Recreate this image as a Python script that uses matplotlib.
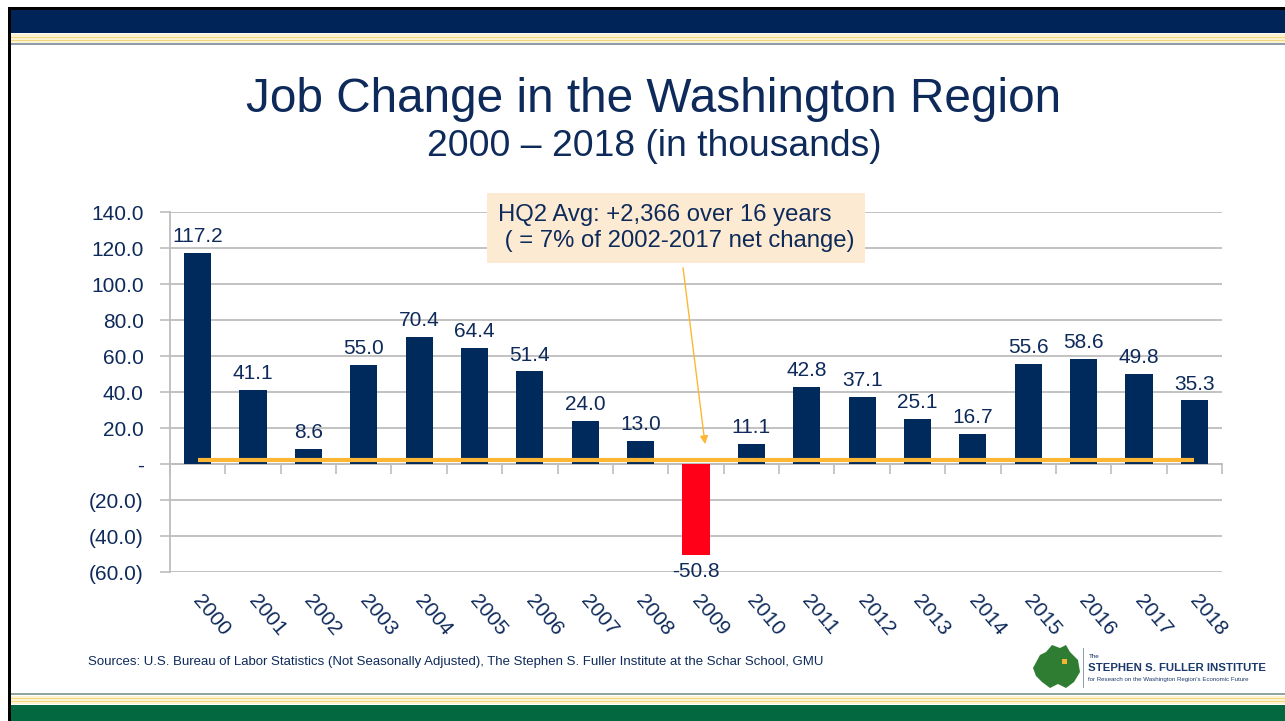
"""
Job change in the Washington region, 2000-2018 (thousands), slide-style bar chart.
"""
import matplotlib
matplotlib.use("Agg")
import matplotlib.pyplot as plt
from matplotlib.patches import Rectangle, Polygon
from matplotlib.ticker import FuncFormatter
import numpy as np

plt.rcParams.update({
    "font.family": ["Liberation Sans", "DejaVu Sans"],
    "font.size": 14,
})

years = [str(y) for y in range(2000, 2019)]
job_change = [117.2, 41.1, 8.6, 55.0, 70.4, 64.4, 51.4, 24.0, 13.0, -50.8,
              11.1, 42.8, 37.1, 25.1, 16.7, 55.6, 58.6, 49.8, 35.3]
hq2_avg = 2.366  # thousands per year

NAVY = "#002A5C"
TEXT = "#0E2A5A"
RED = "#FF0018"
ORANGE = "#FDB734"
GRID = "#BDBDBD"

W, H = 1285, 721


def px(x, y):
    # pixel (from top-left) -> figure fraction
    return x / W, 1 - y / H


def band(fig, y0, y1, color, x0=10):
    fig.add_artist(Rectangle((x0 / W, 1 - y1 / H), (W - x0) / W, (y1 - y0) / H,
                             transform=fig.transFigure, color=color, lw=0, zorder=0))


def yfmt(v, _):
    if abs(v) < 1e-9:
        return "-"
    if v < 0:
        return f"({abs(v):.1f})"
    return f"{v:.1f}"


fig = plt.figure(figsize=(W / 100, H / 100), dpi=100)
fig.patch.set_facecolor("white")

# slide header / footer decoration
band(fig, 7, 10, "black", x0=8)
band(fig, 10, 33, "#002458")
band(fig, 34, 43, "#FBF3D2")
band(fig, 36.5, 37.5, "#F1D77E")
band(fig, 39.5, 40.5, "#F1D77E")
band(fig, 43, 45, "#8E9CAE")
band(fig, 693, 695, "#8FA5A0")
band(fig, 696, 704, "#FBF3D2")
band(fig, 698, 699, "#F1D77E")
band(fig, 701, 702, "#F1D77E")
band(fig, 705, 721, "#036840")
fig.add_artist(Rectangle((8 / W, 0), 3 / W, 1 - 7 / H, transform=fig.transFigure,
                         color="black", lw=0, zorder=1))

# titles
fig.text(*px(654, 100), "Job Change in the Washington Region", ha="center", va="center",
         fontsize=34.4, color=TEXT)
fig.text(*px(654, 146), "2000 \u2013 2018 (in thousands)", ha="center", va="center",
         fontsize=26.8, color=TEXT)

# main axes
ax = fig.add_axes([170 / W, 1 - 572 / H, (1222 - 170) / W, (572 - 212) / H])
x = np.arange(len(years))
colors = [RED if v < 0 else NAVY for v in job_change]
bars = ax.bar(x, job_change, width=0.49, color=colors, zorder=3)

ax.set_xlim(-0.5, len(years) - 0.5)
ax.set_ylim(-60, 140)
ax.set_yticks(np.arange(-60, 141, 20))
ax.yaxis.set_major_formatter(FuncFormatter(yfmt))
ax.tick_params(axis="y", length=7, color=GRID, width=1.2, labelcolor=TEXT,
               labelsize=15, pad=12)
ax.grid(axis="y", color=GRID, lw=1.3, zorder=0)
ax.set_axisbelow(True)

for s in ["top", "right"]:
    ax.spines[s].set_visible(False)
ax.spines["left"].set_color(GRID)
ax.spines["left"].set_linewidth(1.3)
ax.spines["bottom"].set_position(("data", 0))
ax.spines["bottom"].set_color(GRID)
ax.spines["bottom"].set_linewidth(1.3)

# tick marks at category boundaries on the zero line, labels at the bottom
ax.set_xticks(x)
ax.set_xticklabels([])
ax.tick_params(axis="x", which="major", length=0)
ax.set_xticks(np.arange(-0.5, len(years) - 0.4, 1), minor=True)
ax.tick_params(axis="x", which="minor", length=7, color=GRID, width=1.2, direction="out")

for i, yr in enumerate(years):
    ax.annotate(yr, xy=(i, -60), xytext=(-6, -14), textcoords="offset points",
                rotation=-50, ha="left", va="top", fontsize=15, color=TEXT,
                annotation_clip=False)

# data labels
for b, v in zip(bars, job_change):
    cx = b.get_x() + b.get_width() / 2
    if v >= 0:
        ax.annotate(f"{v:.1f}", xy=(cx, v), xytext=(0, 5), textcoords="offset points",
                    ha="center", va="bottom", fontsize=15, color=TEXT)
    else:
        ax.annotate(f"{v:.1f}", xy=(cx, v), xytext=(0, -5), textcoords="offset points",
                    ha="center", va="top", fontsize=15, color=TEXT)

# HQ2 average line
ax.plot([x[0], x[-1]], [hq2_avg, hq2_avg], color=ORANGE, lw=3, zorder=4,
        solid_capstyle="butt")

# callout box with arrow
ax.annotate("", xy=(9.17, 9.5), xytext=(8.76, 110.5),
            arrowprops=dict(arrowstyle="-|>", color=ORANGE, lw=1, mutation_scale=12),
            zorder=5)
fig.text(*px(498, 228), "HQ2 Avg: +2,366 over 16 years\n ( = 7% of 2002-2017 net change)",
         ha="left", va="center", fontsize=17.2, color=TEXT, linespacing=1.25,
         bbox=dict(boxstyle="square,pad=0.45", fc="#FCEBD2", ec="none"))

# source note
fig.text(*px(88, 662), "Sources: U.S. Bureau of Labor Statistics (Not Seasonally Adjusted), "
         "The Stephen S. Fuller Institute at the Schar School, GMU",
         ha="left", va="center", fontsize=9.5, color=TEXT)

# logo
blob = [(1033, 668), (1040, 655), (1046, 652), (1052, 645), (1060, 648), (1066, 645),
        (1070, 652), (1078, 660), (1080, 672), (1074, 682), (1066, 688), (1058, 684),
        (1050, 688), (1042, 682), (1036, 676)]
fig.add_artist(Polygon([px(a, b) for a, b in blob], closed=True, transform=fig.transFigure,
                       fc="#2E7D32", ec="none"))
fig.add_artist(Rectangle(px(1062, 664), 5 / W, 5 / H, transform=fig.transFigure,
                         fc="#F2B531", ec="none"))
fig.add_artist(Rectangle(px(1083, 688), 1 / W, 40 / H, transform=fig.transFigure,
                         fc="#8E9CAE", ec="none"))
fig.text(*px(1089, 656), "The", fontsize=4.5, color=TEXT, va="center")
fig.text(*px(1088, 668), "STEPHEN S. FULLER INSTITUTE", fontsize=8.2, color="#1B3A6B",
         fontweight="bold", va="center")
fig.text(*px(1088, 680), "for Research on the Washington Region's Economic Future",
         fontsize=4.4, color="#1B3A6B", va="center")

fig.savefig("out.png", dpi=100, facecolor="white")
